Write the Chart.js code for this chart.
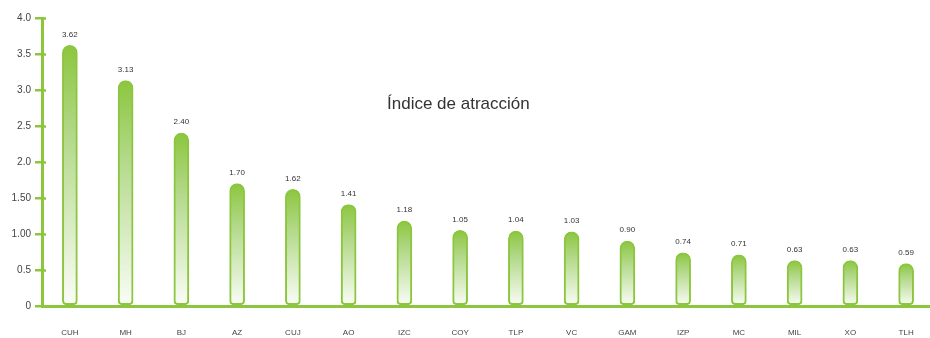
<!DOCTYPE html>
<html>
<head>
<meta charset="utf-8">
<script src="https://cdn.jsdelivr.net/npm/chart.js@4.4.1/dist/chart.umd.min.js"></script>
<style>
  html, body { margin: 0; padding: 0; background: #fff; overflow: hidden; }
  #wrap { position: relative; width: 934px; height: 338px; }
  #title {
    position: absolute; left: 387px; top: 94px;
    font: 17px "Liberation Sans", Arial, sans-serif; color: #333;
    white-space: nowrap;
  }
</style>
</head>
<body>
<div id="wrap">
  <canvas id="chart"></canvas>
  <div id="title">Índice de atracción</div>
</div>
<script>
const categories = ['CUH', 'MH', 'BJ', 'AZ', 'CUJ', 'AO', 'IZC', 'COY', 'TLP', 'VC', 'GAM', 'IZP', 'MC', 'MIL', 'XO', 'TLH'];
const values = [3.62, 3.13, 2.40, 1.70, 1.62, 1.41, 1.18, 1.05, 1.04, 1.03, 0.90, 0.74, 0.71, 0.63, 0.63, 0.59];
const yTickValues = [0, 0.5, 1, 1.5, 2, 2.5, 3, 3.5, 4];
const yTickLabels = ['0', '0.5', '1.00', '1.50', '2.0', '2.5', '3.0', '3.5', '4.0'];

const GREEN = '#8cc63f';
const FONT = '"Liberation Sans", Arial, sans-serif';

// per-bar fade from green at the top to white at the base
function barFill(ctx) {
  const chart = ctx.chart;
  const y = chart.scales.y;
  if (!y || !ctx.parsed || !chart.chartArea) return GREEN;
  const top = y.getPixelForValue(ctx.parsed.y);
  const bottom = y.getPixelForValue(0);
  if (!Number.isFinite(top) || !Number.isFinite(bottom) || top === bottom) return GREEN;
  const g = chart.ctx.createLinearGradient(0, top, 0, bottom);
  g.addColorStop(0, '#8cc63f');
  g.addColorStop(0.35, '#b3d98a');
  g.addColorStop(1, '#fbfdf8');
  return g;
}

const innerTicks = {
  id: 'innerTicks',
  afterDraw(chart) {
    const y = chart.scales.y;
    const c = chart.ctx;
    c.save();
    c.strokeStyle = GREEN;
    c.lineWidth = 2.5;
    yTickValues.forEach((v) => {
      const py = Math.round(y.getPixelForValue(v)) + 0.5;
      c.beginPath();
      c.moveTo(y.right, py);
      c.lineTo(y.right + 4, py);
      c.stroke();
    });
    c.restore();
  },
};

const valueLabels = {
  id: 'valueLabels',
  afterDatasetsDraw(chart) {
    const meta = chart.getDatasetMeta(0);
    const c = chart.ctx;
    c.save();
    c.font = '8px ' + FONT;
    c.fillStyle = '#333';
    c.textAlign = 'center';
    c.textBaseline = 'middle';
    meta.data.forEach((bar, i) => {
      c.fillText(values[i].toFixed(2), bar.x, bar.y - 11);
    });
    c.restore();
  },
};

new Chart(document.getElementById('chart'), {
  type: 'bar',
  data: {
    labels: categories,
    datasets: [
      {
        data: values,
        backgroundColor: barFill,
        borderColor: GREEN,
        borderWidth: 2,
        borderSkipped: false,
        borderRadius: { topLeft: 8, topRight: 8, bottomLeft: 4, bottomRight: 4 },
        barThickness: 15,
      },
    ],
  },
  options: {
    responsive: true,
    maintainAspectRatio: false,
    animation: false,
    layout: { padding: { top: 18, right: 0, bottom: 0, left: 0 } },
    plugins: { legend: { display: false }, tooltip: { enabled: false } },
    scales: {
      x: {
        offset: true,
        grid: { display: false },
        border: { display: true, color: GREEN, width: 3 },
        ticks: { color: '#444', font: { family: FONT, size: 8 }, padding: 14, maxRotation: 0 },
        afterFit: (s) => { s.height = 32; },
      },
      y: {
        min: 0,
        max: 4,
        afterBuildTicks: (s) => { s.ticks = yTickValues.map((v) => ({ value: v })); },
        afterFit: (s) => { s.width = 42; },
        grid: { drawOnChartArea: false, drawTicks: true, tickLength: 7, color: GREEN, lineWidth: 2.5 },
        border: { display: true, color: GREEN, width: 3 },
        ticks: {
          color: '#444',
          font: { family: FONT, size: 10 },
          padding: 4,
          callback: (v) => yTickLabels[yTickValues.indexOf(v)],
        },
      },
    },
  },
  plugins: [innerTicks, valueLabels],
});
</script>
</body>
</html>
